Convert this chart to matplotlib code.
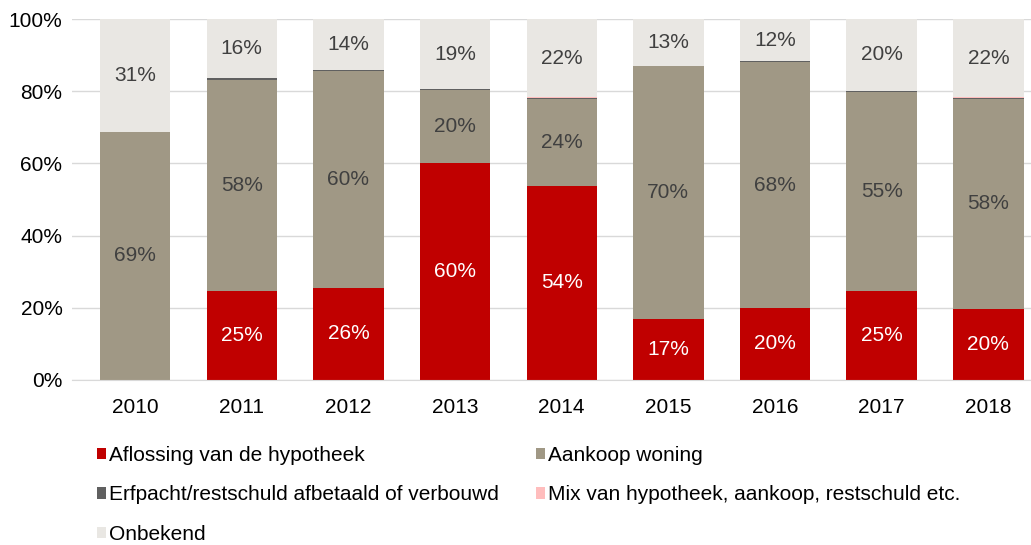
import numpy as np
import matplotlib
matplotlib.use("Agg")
import matplotlib.pyplot as plt
from matplotlib.ticker import PercentFormatter

plt.rcParams['font.family'] = ['Liberation Sans', 'DejaVu Sans']

# data (percent of total per year)
years = ["2010", "2011", "2012", "2013", "2014", "2015", "2016", "2017", "2018"]
aflossing = [0.0, 24.7, 25.5, 60.1, 53.7, 16.9, 19.9, 24.6, 19.7]
aankoop = [68.7, 58.4, 60.2, 20.3, 24.1, 70.1, 68.2, 55.2, 58.2]
erfpacht = [0.0, 0.5, 0.3, 0.2, 0.3, 0.0, 0.3, 0.3, 0.3]
mix = [0.0, 0.1, 0.0, 0.0, 0.3, 0.0, 0.0, 0.1, 0.2]
onbekend = [31.3, 16.3, 14.0, 19.4, 21.6, 13.0, 11.6, 19.8, 21.6]

series = [
    ("Aflossing van de hypotheek", aflossing, "#C00000", "white"),
    ("Aankoop woning", aankoop, "#A09885", "#404040"),
    ("Erfpacht/restschuld afbetaald of verbouwd", erfpacht, "#606060", "#404040"),
    ("Mix van hypotheek, aankoop, restschuld etc.", mix, "#FFBDBD", "#404040"),
    ("Onbekend", onbekend, "#E9E7E3", "#404040"),
]

fig = plt.figure(figsize=(10.31, 5.45), dpi=100)
ax = fig.add_axes([0.070, 0.303, 0.930, 0.662])

x = np.arange(len(years))
bottom = np.zeros(len(years))
bars = {}
for name, vals, color, tcol in series:
    vals = np.array(vals)
    b = ax.bar(x, vals, 0.66, bottom=bottom, color=color, label=name, zorder=2)
    bars[name] = b
    for xi, v, btm in zip(x, vals, bottom):
        if v >= 5:
            ax.text(xi, btm + v / 2, f"{v:.0f}%", ha="center", va="center",
                    color=tcol, fontsize=15, zorder=3)
    bottom += vals

ax.set_ylim(0, 100)
ax.set_xlim(-0.59, 8.4)
ax.set_yticks(range(0, 101, 20))
ax.yaxis.set_major_formatter(PercentFormatter(decimals=0))
ax.set_xticks(x)
ax.set_xticklabels(years)
ax.tick_params(axis="both", length=0, labelsize=15, colors="black")
ax.tick_params(axis="y", pad=7)
ax.tick_params(axis="x", pad=13)
ax.grid(axis="y", color="#D9D9D9", linewidth=1, zorder=0)
for s in ["top", "right", "left"]:
    ax.spines[s].set_visible(False)
ax.spines["bottom"].set_color("#D9D9D9")

# legend, column-wise order so it reads row by row like the original
order = ["Aflossing van de hypotheek", "Erfpacht/restschuld afbetaald of verbouwd", "Onbekend",
         "Aankoop woning", "Mix van hypotheek, aankoop, restschuld etc."]
fig.legend([bars[n] for n in order], order, loc="upper left", bbox_to_anchor=(0.086, 0.197),
           ncol=2, frameon=False, fontsize=15, handlelength=0.45, handleheight=0.45,
           handletextpad=0.15, labelspacing=0.98, columnspacing=1.75, borderaxespad=0)

fig.savefig("out.png", dpi=100)
